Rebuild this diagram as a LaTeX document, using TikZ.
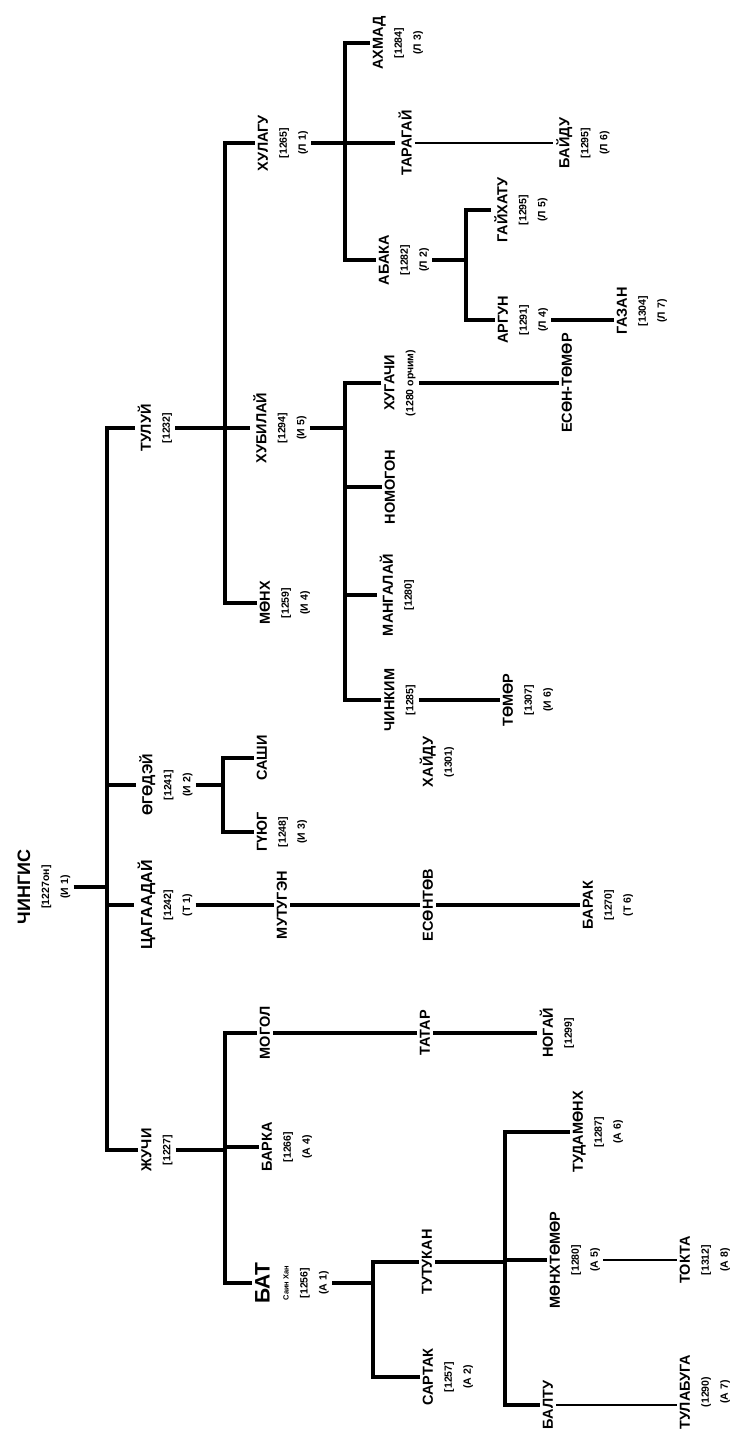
\documentclass[tikz,border=0pt]{standalone}
\usepackage{fontspec}
\setmainfont{Liberation Sans}
\usetikzlibrary{positioning}

\newcommand{\nm}[1]{{\fontsize{14.5}{19}\selectfont #1}}

\begin{document}
\begin{tikzpicture}[x=1pt, y=-1pt,
						person/.style={rotate=90, align=center, inner sep=3pt, font=\fontsize{10.5}{19}\selectfont\bfseries},
						link/.style={line width=3.4pt},
						thinlink/.style={line width=1.9pt}
					]
					\useasboundingbox (0,0) rectangle (735,1451);
					% joints of the brackets
					\coordinate (jA) at (107,0);
					\coordinate (jB) at (225,0);
					\coordinate (jC) at (223,0);
					\coordinate (jD) at (225,0);
					\coordinate (jE) at (345,0);
					\coordinate (jF) at (345,0);
					\coordinate (jG) at (373,0);
					\coordinate (jH) at (466,0);
					\coordinate (jI) at (505,0);
					% root and sons
					\node[person] (chingis) at (44,887) {{\fontsize{18}{19}\selectfont ЧИНГИС}\\{}[1227он]\\ (И 1)};
					\node[person] (tului) at (155,428) {\nm{ТУЛУЙ}\\{}[1232]};
					\node[person] (ogodei) at (166,785) {\nm{ӨГӨДЭЙ}\\{}[1241]\\ (И 2)};
					\node[person] (tsagaadai) at (165,905) {{\fontsize{16}{19}\selectfont ЦАГААДАЙ}\\{}[1242]\\ (Т 1)};
					\node[person] (juchi) at (157,1150) {\nm{ЖУЧИ}\\{}[1227]};
					% grandsons
					\node[person] (hulagu) at (283,143) {\nm{ХУЛАГУ}\\{}[1265]\\ (Л 1)};
					\node[person] (khubilai) at (280,428) {\nm{ХУБИЛАЙ}\\{}[1294]\\ (И 5)};
					\node[person] (mongke) at (285,603) {\nm{МӨНХ}\\{}[1259]\\ (И 4)};
					\node[person] (sashi) at (262,758) {\nm{САШИ}};
					\node[person] (guyug) at (282,832) {\nm{ГҮЮГ}\\{}[1248]\\ (И 3)};
					\node[person] (mutugen) at (282,905) {\nm{МУТУГЭН}};
					\node[person] (mogol) at (265,1033) {\nm{МОГОЛ}};
					\node[person] (barka) at (287,1147) {\nm{БАРКА}\\{}[1266]\\ (А 4)};
					\node[person] (bat) at (292,1283) {{\fontsize{21}{19}\selectfont БАТ}\\ {\fontsize{7.5}{9}\selectfont Саин Хан}\\{}[1256]\\ (А 1)};
					% third generation
					\node[person] (akhmad) at (398,43) {\nm{АХМАД}\\{}[1284]\\ (Л 3)};
					\node[person] (taragai) at (405,143) {\nm{ТАРАГАЙ}};
					\node[person] (abaka) at (404,260) {\nm{АБАКА}\\{}[1282]\\ (Л 2)};
					\node[person] (khugachi) at (400,383) {\nm{ХУГАЧИ}\\ (1280 орчим)};
					\node[person] (nomogon) at (390,487) {\nm{НОМОГОН}};
					\node[person] (mangalai) at (397,595) {\nm{МАНГАЛАЙ}\\{}[1280]};
					\node[person] (chinkim) at (400,700) {\nm{ЧИНКИМ}\\{}[1285]};
					\node[person] (khaidu) at (437,762) {\nm{ХАЙДУ}\\ (1301)};
					\node[person] (yesuntuv) at (428,905) {\nm{ЕСӨНТӨВ}};
					\node[person] (tatar) at (425,1033) {\nm{ТАТАР}};
					\node[person] (tutukan) at (427,1262) {\nm{ТУТУКАН}};
					\node[person] (sartak) at (448,1377) {\nm{САРТАК}\\{}[1257]\\ (А 2)};
					% fourth generation
					\node[person] (baidu) at (583,143) {\nm{БАЙДУ}\\{}[1295]\\ (Л 6)};
					\node[person] (gaikhatu) at (521,210) {\nm{ГАЙХАТУ}\\{}[1295]\\ (Л 5)};
					\node[person] (argun) at (523,320) {\nm{АРГУН}\\{}[1291]\\ (Л 4)};
					\node[person] (yesuntemur) at (567,383) {\nm{ЕСӨН-ТӨМӨР}};
					\node[person] (tomor) at (528,700) {\nm{ТӨМӨР}\\{}[1307]\\ (И 6)};
					\node[person] (barak) at (608,905) {\nm{БАРАК}\\{}[1270]\\ (Т 6)};
					\node[person] (nogai) at (557,1033) {\nm{НОГАЙ}\\{}[1299]};
					\node[person] (tudamonkh) at (598,1132) {\nm{ТУДАМӨНХ}\\{}[1287]\\ (А 6)};
					\node[person] (monkhtomor) at (575,1260) {\nm{МӨНХТӨМӨР}\\{}[1280]\\ (А 5)};
					\node[person] (baltu) at (548,1405) {\nm{БАЛТУ}};
					% fifth generation
					\node[person] (gazan) at (642,311) {\nm{ГАЗАН}\\{}[1304]\\ (Л 7)};
					\node[person] (tokta) at (705,1260) {\nm{ТОКТА}\\{}[1312]\\ (А 8)};
					\node[person] (tulabuga) at (705,1392) {\nm{ТУЛАБУГА}\\ (1290)\\ (А 7)};
					% Chingis and sons
					\draw[link] (chingis.south) -- (chingis.south -| jA);
					\draw[link] (tului.north) -| (jA |- juchi.north) -- (juchi.north);
					\draw[link] (jA |- ogodei.north) -- (ogodei.north);
					\draw[link] (jA |- tsagaadai.north) -- (tsagaadai.north);
					% Tului line
					\draw[link] (tului.south) -- (tului.south -| jB);
					\draw[link] (hulagu.north) -| (jB |- mongke.north) -- (mongke.north);
					\draw[link] (jB |- khubilai.north) -- (khubilai.north);
					\draw[link] (hulagu.south) -- (hulagu.south -| jE);
					\draw[link] (akhmad.north) -| (jE |- abaka.north) -- (abaka.north);
					\draw[link] (jE |- taragai.north) -- (taragai.north);
					\draw[thinlink] (taragai.south) -- (baidu.north);
					\draw[link] (abaka.south) -- (abaka.south -| jH);
					\draw[link] (gaikhatu.north) -| (jH |- argun.north) -- (argun.north);
					\draw[link] (argun.south) -- (argun.south -| gazan.north);
					\draw[link] (khubilai.south) -- (khubilai.south -| jF);
					\draw[link] (khugachi.north) -| (jF |- chinkim.north) -- (chinkim.north);
					\draw[link] (jF |- nomogon.north) -- (nomogon.north);
					\draw[link] (jF |- mangalai.north) -- (mangalai.north);
					\draw[link] (khugachi.south) -- (yesuntemur.north);
					\draw[link] (chinkim.south) -- (tomor.north);
					% Ogodei and Tsagaadai lines
					\draw[link] (ogodei.south) -- (ogodei.south -| jC);
					\draw[link] (sashi.north) -| (jC |- guyug.north) -- (guyug.north);
					\draw[link] (tsagaadai.south) -- (mutugen.north);
					\draw[link] (mutugen.south) -- (yesuntuv.north);
					\draw[link] (yesuntuv.south) -- (barak.north);
					% Juchi line
					\draw[link] (juchi.south) -- (juchi.south -| jD);
					\draw[link] (mogol.north) -| (jD |- bat.north) -- (bat.north);
					\draw[link] (jD |- barka.north) -- (barka.north);
					\draw[link] (mogol.south) -- (tatar.north);
					\draw[link] (tatar.south) -- (nogai.north);
					\draw[link] (bat.south) -- (bat.south -| jG);
					\draw[link] (tutukan.north) -| (jG |- sartak.north) -- (sartak.north);
					\draw[link] (tutukan.south) -- (tutukan.south -| jI);
					\draw[link] (tudamonkh.north) -| (jI |- baltu.north) -- (baltu.north);
					\draw[link] (jI |- monkhtomor.north) -- (monkhtomor.north);
					\draw[thinlink] (monkhtomor.south) -- (tokta.north);
					\draw[thinlink] (baltu.south) -- (baltu.south -| tulabuga.north);
					\end{tikzpicture}
\end{document}
